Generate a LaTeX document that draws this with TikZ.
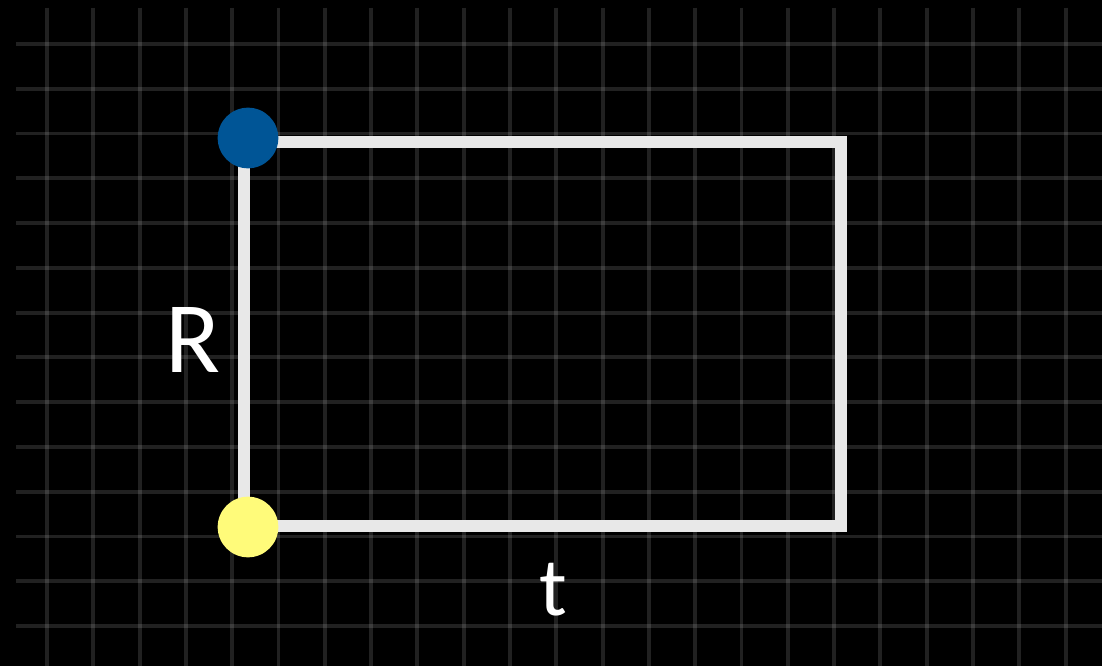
\documentclass[tikz,border=0pt]{standalone}
\usepackage{fontspec}
\setmainfont{Carlito}
\definecolor{bluedot}{HTML}{005596}
\definecolor{yellowdot}{HTML}{FFFB7A}
\definecolor{rectline}{HTML}{E8E8E8}
\tikzset{
  gridline/.style={white, opacity=0.13, line width=2.9pt},
  frame/.style={rectline, line width=9.6pt, line join=miter},
  dot/.style={circle, inner sep=0pt, minimum size=45.5pt},
  lbl/.style={text=white, font=\fontsize{76}{80}\selectfont, inner sep=0pt}
}
\begin{document}
\begin{tikzpicture}[x=0.75pt, y=-0.75pt]
\fill[black] (0,0) rectangle (1102,666);
\useasboundingbox (0,0) rectangle (1102,666);
% grid
\foreach \i in {0,...,22} {
  \draw[gridline] ({47+\i*46.3},8) -- ({47+\i*46.3},666);
}
\foreach \j in {0,...,13} {
  \draw[gridline] (16,{44+\j*44.77}) -- (1102,{44+\j*44.77});
}
% rectangle
\coordinate (tl) at (244,142);
\coordinate (tr) at (841,142);
\coordinate (br) at (841,526);
\coordinate (bl) at (244,526);
\draw[frame] (tl) -- (tr) -- (br) -- (bl) -- cycle;
% dots
\node[dot, fill=bluedot] (blue) at (248,138) {};
\node[dot, fill=yellowdot] (yellow) at (248,527) {};
% labels
\node[lbl] (R) at (193,340) {R};
\node[lbl, font=\fontsize{62}{66}\selectfont] (t) at (553,590) {t};
\end{tikzpicture}
\end{document}
